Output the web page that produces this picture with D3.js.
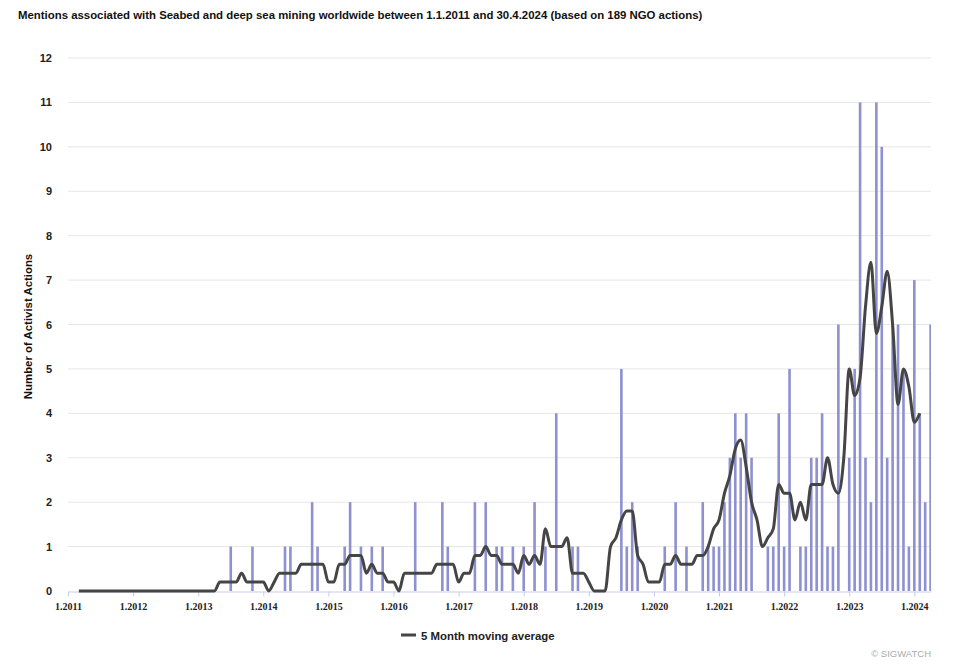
<!DOCTYPE html>
<html>
<head>
<meta charset="utf-8">
<script src="https://cdn.jsdelivr.net/npm/d3@7"></script>
<style>
  body { margin: 0; background: #fff; }
  svg { display: block; }
</style>
</head>
<body>
<svg id="chart" width="959" height="668"></svg>
<script>
// monthly NGO actions, Jan 2011 .. Apr 2024 (one row per year)
var startYear = 2011;
var actions = [
  0,0,0,0,0,0,0,0,0,0,0,0,
  0,0,0,0,0,0,0,0,0,0,0,0,
  0,0,0,0,0,0,1,0,0,0,1,0,
  0,0,0,0,1,1,0,0,0,2,1,0,
  0,0,0,1,2,0,1,0,1,0,1,0,
  0,0,0,0,2,0,0,0,0,2,1,0,
  0,0,0,2,0,2,0,1,1,0,1,0,
  1,0,2,0,1,0,4,0,0,1,1,0,
  0,0,0,0,0,0,5,1,2,1,0,0,
  0,0,1,0,2,0,1,0,0,2,1,1,
  1,2,3,4,3,4,3,0,0,1,1,4,
  1,5,0,1,1,3,3,4,1,1,6,0,
  3,5,11,3,2,11,10,3,6,6,5,1,
  7,4,2,6
];

// 5 month moving average (Mar 2011 .. Feb 2024)
var maStart = 2;
var movingAvg = [
  0,0,0,0,0,0,0,0,0,0,
  0,0,0,0,0,0,0,0,0,0,0,0,
  0,0,0,0,0.2,0.2,0.2,0.2,0.4,0.2,0.2,0.2,
  0.2,0,0.2,0.4,0.4,0.4,0.4,0.6,0.6,0.6,0.6,0.6,
  0.2,0.2,0.6,0.6,0.8,0.8,0.8,0.4,0.6,0.4,0.4,0.2,
  0.2,0,0.4,0.4,0.4,0.4,0.4,0.4,0.6,0.6,0.6,0.6,
  0.2,0.4,0.4,0.8,0.8,1.0,0.8,0.8,0.6,0.6,0.6,0.4,
  0.8,0.6,0.8,0.6,1.4,1.0,1.0,1.0,1.2,0.4,0.4,0.4,
  0.2,0,0,0,1.0,1.2,1.6,1.8,1.8,0.8,0.6,0.2,
  0.2,0.2,0.6,0.6,0.8,0.6,0.6,0.6,0.8,0.8,1.0,1.4,
  1.6,2.2,2.6,3.2,3.4,2.8,2.0,1.6,1.0,1.2,1.4,2.4,
  2.2,2.2,1.6,2.0,1.6,2.4,2.4,2.4,3.0,2.4,2.2,3.0,
  5.0,4.4,4.8,6.4,7.4,5.8,6.4,7.2,6.0,4.2,5.0,4.6,
  3.8,4.0
];

var yTicks = [0,1,2,3,4,5,6,7,8,9,10,11,12];
var xTickLabels = ["1.2011","1.2012","1.2013","1.2014","1.2015","1.2016","1.2017",
                   "1.2018","1.2019","1.2020","1.2021","1.2022","1.2023","1.2024"];

var title = "Mentions associated with Seabed and deep sea mining worldwide between 1.1.2011 and 30.4.2024 (based on 189 NGO actions)";

var margin = { left: 68, right: 28, top: 58, bottom: 77 };
var width = 959, height = 668;
var sans = "Liberation Sans, Arial, sans-serif";

var svg = d3.select("#chart");

var x = d3.scaleLinear()
  .domain([0, actions.length - 1])
  .range([margin.left, width - margin.right - 0.4]);
var y = d3.scaleLinear()
  .domain([0, 12])
  .range([height - margin.bottom, margin.top]);

svg.append("defs").append("clipPath").attr("id", "plot")
  .append("rect")
  .attr("x", margin.left - 5).attr("y", 0)
  .attr("width", width - margin.right - margin.left + 5).attr("height", height);

// title
svg.append("text")
  .attr("x", 18).attr("y", 19)
  .attr("font-family", sans)
  .attr("font-weight", "bold")
  .attr("font-size", 11.4)
  .attr("fill", "#111")
  .text(title);

// gridlines
svg.append("g").selectAll("line")
  .data(yTicks.slice(1))
  .enter().append("line")
  .attr("x1", margin.left).attr("x2", width - margin.right)
  .attr("y1", d => y(d)).attr("y2", d => y(d))
  .attr("stroke", "#e6e6e6").attr("stroke-width", 1);

// y axis labels
var yAxis = d3.axisLeft(y).tickValues(yTicks).tickSize(0).tickPadding(16);
svg.append("g")
  .attr("transform", "translate(" + margin.left + ",0)")
  .call(yAxis)
  .call(g => g.select(".domain").remove())
  .selectAll("text")
  .attr("font-family", sans)
  .attr("font-weight", "bold")
  .attr("font-size", 11)
  .attr("fill", "#222");

svg.append("text")
  .attr("transform", "translate(32," + ((y(0) + y(12)) / 2 + 2) + ") rotate(-90)")
  .attr("text-anchor", "middle")
  .attr("font-family", sans)
  .attr("font-weight", "bold")
  .attr("font-size", 11.4)
  .attr("fill", "#111")
  .text("Number of Activist Actions");

// bars
svg.append("g")
  .attr("clip-path", "url(#plot)")
  .selectAll("rect")
  .data(actions)
  .enter().append("rect")
  .attr("x", (d, i) => x(i) - 1.3)
  .attr("width", 2.6)
  .attr("y", d => y(d))
  .attr("height", d => y(0) - y(d))
  .attr("fill", "#8e90d1");

// x axis
var xAxis = d3.axisBottom(x)
  .tickValues(xTickLabels.map((d, i) => i * 12))
  .tickFormat((d, i) => xTickLabels[i])
  .tickSize(5)
  .tickSizeOuter(0)
  .tickPadding(6);
var gx = svg.append("g")
  .attr("transform", "translate(0," + (y(0) + 0.5) + ")")
  .call(xAxis);
gx.select(".domain").attr("stroke", "#c9cbee").attr("stroke-width", 1.2);
gx.selectAll(".tick line").attr("stroke", "#c9cbee");
gx.selectAll("text")
  .attr("font-family", "Liberation Serif, Times New Roman, serif")
  .attr("font-weight", "bold")
  .attr("font-size", 10)
  .attr("fill", "#222");

// moving average line
var line = d3.line()
  .x((d, i) => x(i + maStart))
  .y(d => y(d))
  .curve(d3.curveMonotoneX);
svg.append("path")
  .datum(movingAvg)
  .attr("d", line)
  .attr("fill", "none")
  .attr("stroke", "#454545")
  .attr("stroke-width", 3)
  .attr("stroke-linejoin", "round");

// legend
svg.append("line")
  .attr("x1", 401).attr("x2", 416)
  .attr("y1", 635).attr("y2", 635)
  .attr("stroke", "#454545").attr("stroke-width", 3);
svg.append("text")
  .attr("x", 421).attr("y", 639.5)
  .attr("font-family", sans)
  .attr("font-weight", "bold")
  .attr("font-size", 11.4)
  .attr("fill", "#222")
  .text("5 Month moving average");

svg.append("text")
  .attr("x", 931).attr("y", 657)
  .attr("text-anchor", "end")
  .attr("font-family", sans)
  .attr("font-size", 9.5)
  .attr("fill", "#aaa")
  .text("\u00a9 SIGWATCH");
</script>
</body>
</html>
